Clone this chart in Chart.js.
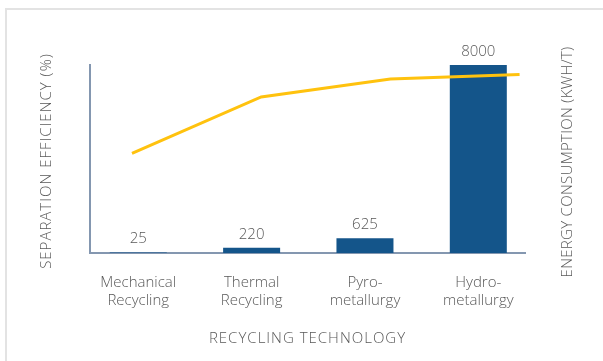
<!DOCTYPE html>
<html>
<head>
<meta charset="utf-8">
<script src="https://cdn.jsdelivr.net/npm/chart.js@4"></script>
<style>
  html, body { margin: 0; padding: 0; background: #fff; }
  #wrap { position: relative; width: 603px; height: 361px; overflow: hidden; }
  #frame { position: absolute; left: 5px; top: 8px; width: 700px; height: 500px;
           border-top: 2px solid #e3e3e3; border-left: 2px solid #e3e3e3; }
  canvas { position: absolute; left: 0; top: 0; }
</style>
</head>
<body>
<div id="wrap">
  <div id="frame"></div>
  <canvas id="chart" width="603" height="361"></canvas>
</div>
<script>
const categories = [['Mechanical', 'Recycling'], ['Thermal', 'Recycling'], ['Pyro-', 'metallurgy'], ['Hydro-', 'metallurgy']];
const energyUse = [25, 220, 625, 8000];      // kWh/t, bars
const efficiency = [53, 83, 92.5, 95];       // %, line
const xTitle = 'RECYCLING TECHNOLOGY';
const leftTitle = 'SEPARATION EFFICIENCY (%)';
const rightTitle = 'ENERGY CONSUMPTION (KWH/T)';

const textColor = '#595959';
const axisColor = '#8497B0';
const font = { family: "'Open Sans', sans-serif", size: 15, weight: 300 };
const canvasFont = "300 15px 'Open Sans', sans-serif";

// bar value labels + axis titles (titles are letter-spaced, so drawn here)
const extras = {
    id: 'extras',
    afterDatasetsDraw(chart) {
        const ctx = chart.ctx;
        const area = chart.chartArea;
        const midY = (area.top + area.bottom) / 2;
        const meta = chart.getDatasetMeta(0);
        ctx.save();
        ctx.fillStyle = textColor;
        ctx.font = canvasFont;
        ctx.textAlign = 'center';
        ctx.textBaseline = 'bottom';
        meta.data.forEach((bar, i) => {
            ctx.fillText(energyUse[i], bar.x, bar.y - 6);
        });

        ctx.letterSpacing = '1px';
        ctx.textBaseline = 'middle';
        ctx.fillText(xTitle, (area.left + area.right) / 2, 339);

        ctx.save();
        ctx.translate(47, midY + 2);
        ctx.rotate(-Math.PI / 2);
        ctx.fillText(leftTitle, 0, 0);
        ctx.restore();

        ctx.letterSpacing = '0.3px';
        ctx.translate(area.right + 43, midY + 3);
        ctx.rotate(-Math.PI / 2);
        ctx.fillText(rightTitle, 0, 0);
        ctx.restore();
    }
};

new Chart(document.getElementById('chart'), {
    data: {
        datasets: [
            {
                type: 'bar',
                label: 'Energy consumption',
                data: energyUse.map((v, i) => ({ x: i, y: v })),
                backgroundColor: '#14558A',
                xAxisID: 'x',
                yAxisID: 'y2',
                order: 2,
                grouped: false,
                categoryPercentage: 1,
                barPercentage: 0.503
            },
            {
                type: 'line',
                label: 'Separation efficiency',
                data: efficiency.map((v, i) => ({ x: i, y: v })),
                borderColor: '#FFC20E',
                borderWidth: 3,
                pointRadius: 0,
                tension: 0,
                order: 1,
                xAxisID: 'x2',
                yAxisID: 'y'
            }
        ]
    },
    plugins: [extras],
    options: {
        responsive: false,
        animation: false,
        layout: { padding: { top: 65, right: 78, left: 0, bottom: 0 } },
        plugins: { legend: { display: false }, tooltip: { enabled: false } },
        scales: {
            x: {
                type: 'linear',
                offset: false,
                min: -0.426,
                max: 3.412,
                grid: { display: false, drawTicks: false, offset: false },
                border: { display: true, color: axisColor, width: 2 },
                afterBuildTicks: (axis) => { axis.ticks = categories.map((c, i) => ({ value: i })); },
                afterFit: (axis) => { axis.height = 108; },
                ticks: {
                    autoSkip: false,
                    maxRotation: 0,
                    padding: 21,
                    color: textColor,
                    font: font,
                    callback: (v) => categories[v]
                }
            },
            x2: {
                type: 'linear',
                display: false,
                offset: false,
                min: -0.325,
                max: 3.042
            },
            y: {
                position: 'left',
                min: 0,
                max: 100,
                grid: { display: false, drawTicks: false },
                border: { display: true, color: axisColor, width: 2 },
                ticks: { display: false },
                afterFit: (axis) => { axis.width = 90; }
            },
            y2: {
                position: 'right',
                display: false,
                min: 0,
                max: 8000
            }
        }
    }
});
</script>
</body>
</html>
